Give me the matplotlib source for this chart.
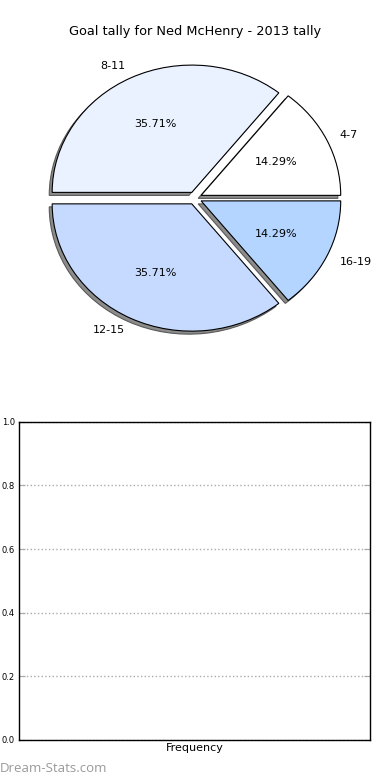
import matplotlib
matplotlib.use("Agg")
import matplotlib.pyplot as plt

categories = ["4-7", "8-11", "12-15", "16-19"]
values = [2, 5, 5, 2]
colors = ["#FFFFFF", "#EAF1FF", "#C6D9FF", "#B4D5FF"]
title = "Goal tally for Ned McHenry - 2013 tally"
yticks = [0.0, 0.2, 0.4, 0.6, 0.8, 1.0]
ytick_labels = ["0.0", "0.2", "0.4", "0.6", "0.8", "1.0"]

fig = plt.figure(figsize=(3.9, 7.8), dpi=100)

ax1 = fig.add_axes([0.052, 0.542, 0.895, 0.408])
wedges, texts, autotexts = ax1.pie(
    values, labels=categories, colors=colors, explode=[0.05] * 4,
    autopct="%.2f%%", startangle=0,
    shadow=dict(ox=-0.015, oy=-0.017, facecolor="#8c8c8c",
                edgecolor="#5a5a5a", alpha=1.0, linewidth=0.8),
    wedgeprops=dict(edgecolor="black", linewidth=0.8),
    textprops=dict(fontsize=8))
ax1.set_aspect("auto")
ax1.set_title(title, fontsize=9.3, pad=3)

ax2 = fig.add_axes([0.049, 0.0513, 0.9, 0.408])
ax2.set_ylim(0, 1)
ax2.set_xlim(0, 1)
ax2.set_xticks([])
ax2.set_yticks(yticks)
ax2.set_yticklabels(ytick_labels, fontsize=6)
ax2.tick_params(axis="y", direction="in", length=4, color="#aaaaaa",
                right=True, left=True, pad=3)
ax2.grid(axis="y", linestyle=":", color="#aaaaaa", linewidth=1)
ax2.set_xlabel("Frequency", fontsize=8, labelpad=2)
for s in ax2.spines.values():
    s.set_linewidth(1)

fig.text(0.0, 0.006, "Dream-Stats.com", fontsize=9.5, color="#9a9a9a",
         family=["Open Sans", "DejaVu Sans"], ha="left", va="bottom")

fig.savefig("out.png", dpi=100)
